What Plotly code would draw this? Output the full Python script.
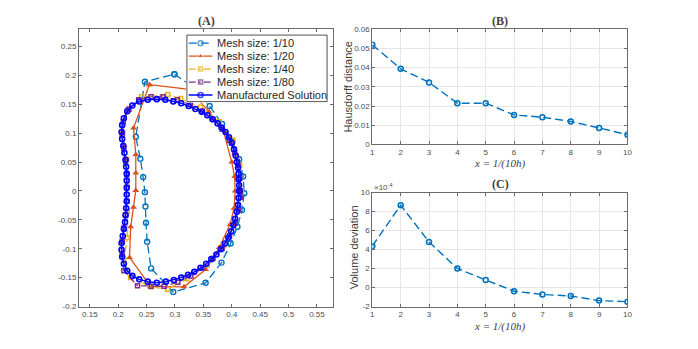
import plotly.graph_objects as go

# ---- panel A: interface shapes ----
mesh10_x = [0.299, 0.335, 0.361, 0.383, 0.401, 0.413, 0.420, 0.422, 0.418, 0.410, 0.398, 0.382,
            0.354, 0.297, 0.258, 0.251, 0.249, 0.248, 0.247, 0.244, 0.239, 0.231, 0.247, 0.299]
mesh10_y = [0.202, 0.178, 0.147, 0.116, 0.085, 0.055, 0.025, -0.004, -0.033, -0.062, -0.091, -0.124,
            -0.159, -0.175, -0.134, -0.088, -0.055, -0.027, -0.002, 0.024, 0.056, 0.094, 0.189, 0.202]

mesh20_x = [0.255, 0.325, 0.360, 0.385, 0.400, 0.405, 0.406, 0.404, 0.397, 0.378, 0.354, 0.316,
            0.257, 0.220, 0.222, 0.227, 0.231, 0.231, 0.231, 0.227, 0.255]
mesh20_y = [0.184, 0.176, 0.137, 0.105, 0.050, 0.025, 0.000, -0.030, -0.058, -0.098, -0.136, -0.166,
            -0.165, -0.115, -0.062, -0.028, 0.001, 0.031, 0.063, 0.109, 0.184]

mesh40_x = [0.416, 0.414, 0.402, 0.378, 0.345, 0.310, 0.287, 0.241, 0.217, 0.208, 0.215, 0.216,
            0.216, 0.216, 0.210, 0.222, 0.257, 0.287, 0.322, 0.357, 0.386, 0.405, 0.416]
mesh40_y = [0.000, 0.045, 0.088, 0.120, 0.145, 0.160, 0.167, 0.163, 0.140, 0.100, 0.055, 0.010,
            -0.035, -0.081, -0.120, -0.150, -0.166, -0.170, -0.152, -0.128, -0.095, -0.055, 0.000]

mesh80_x = [0.415, 0.414, 0.411, 0.405, 0.396, 0.383, 0.367, 0.348, 0.327, 0.304, 0.279, 0.258,
            0.236, 0.219, 0.209, 0.207, 0.210, 0.213, 0.215, 0.215, 0.215, 0.213, 0.210, 0.207,
            0.207, 0.210, 0.234, 0.258, 0.281, 0.305, 0.328, 0.349, 0.367, 0.383, 0.396, 0.406,
            0.412, 0.415, 0.415]
mesh80_y = [0.000, 0.022, 0.044, 0.066, 0.088, 0.107, 0.124, 0.138, 0.150, 0.158, 0.163, 0.163,
            0.158, 0.142, 0.120, 0.097, 0.074, 0.051, 0.028, 0.005, -0.018, -0.041, -0.064, -0.087,
            -0.110, -0.138, -0.164, -0.165, -0.165, -0.158, -0.147, -0.133, -0.117, -0.099, -0.078, -0.056,
            -0.033, -0.011, 0.000]

exact_x = [0.413, 0.413, 0.412, 0.412, 0.411, 0.409, 0.407, 0.404, 0.400, 0.395, 0.389, 0.382,
           0.375, 0.366, 0.357, 0.347, 0.336, 0.324, 0.311, 0.297, 0.283, 0.268, 0.252, 0.237,
           0.225, 0.216, 0.210, 0.207, 0.206, 0.207, 0.209, 0.211, 0.213, 0.214, 0.215, 0.215,
           0.215, 0.215, 0.215, 0.214, 0.213, 0.212, 0.210, 0.208, 0.206, 0.206, 0.207, 0.210,
           0.216, 0.225, 0.237, 0.252, 0.268, 0.284, 0.298, 0.311, 0.323, 0.334, 0.345, 0.355,
           0.364, 0.373, 0.381, 0.388, 0.394, 0.399, 0.403, 0.406, 0.409, 0.411, 0.412, 0.413]
exact_y = [0.000, 0.010, 0.020, 0.030, 0.040, 0.050, 0.061, 0.072, 0.083, 0.093, 0.102, 0.110,
           0.117, 0.124, 0.131, 0.137, 0.142, 0.147, 0.152, 0.155, 0.158, 0.159, 0.158, 0.155,
           0.148, 0.138, 0.126, 0.114, 0.102, 0.090, 0.078, 0.066, 0.054, 0.042, 0.030, 0.018,
           0.006, -0.006, -0.018, -0.030, -0.042, -0.054, -0.066, -0.078, -0.090, -0.102, -0.114, -0.126,
           -0.138, -0.147, -0.153, -0.157, -0.159, -0.157, -0.154, -0.150, -0.145, -0.140, -0.133, -0.126,
           -0.118, -0.110, -0.101, -0.091, -0.081, -0.070, -0.059, -0.048, -0.036, -0.024, -0.012, 0.000]

# ---- panels B and C ----
n_refine = [1, 2, 3, 4, 5, 6, 7, 8, 9, 10]
hausdorff = [0.0519, 0.0394, 0.0323, 0.0215, 0.0215, 0.0154, 0.0142, 0.0120, 0.0086, 0.0051]
vol_dev_e4 = [4.36, 8.67, 4.80, 2.00, 0.80, -0.39, -0.73, -0.90, -1.38, -1.49]  # units of 1e-4

a_xticks = [0.15, 0.2, 0.25, 0.3, 0.35, 0.4, 0.45, 0.5, 0.55]
a_xtext = ["0.15", "0.2", "0.25", "0.3", "0.35", "0.4", "0.45", "0.5", "0.55"]
a_yticks = [-0.2, -0.15, -0.1, -0.05, 0, 0.05, 0.1, 0.15, 0.2, 0.25]
a_ytext = ["-0.2", "-0.15", "-0.1", "-0.05", "0", "0.05", "0.1", "0.15", "0.2", "0.25"]
b_yticks = [0, 0.01, 0.02, 0.03, 0.04, 0.05, 0.06]
b_ytext = ["0", "0.01", "0.02", "0.03", "0.04", "0.05", "0.06"]
c_yticks = [-2, 0, 2, 4, 6, 8, 10]
c_ytext = ["-2", "0", "2", "4", "6", "8", "10"]

series_names = ["Mesh size: 1/10", "Mesh size: 1/20", "Mesh size: 1/40", "Mesh size: 1/80",
                "Manufactured Solution"]

W, H = 698, 349
OFF = 8  # page body margin
SANS = "Liberation Sans, Arial, sans-serif"
SERIF = "Liberation Serif, Times New Roman, serif"
AXC = "#6b6b6b"
DASH = "8px,4px"
DASHDOT = "7px,3px,2px,3px"


def px(x):
    return (x - OFF) / W


def py(y):
    return 1 - (y - OFF) / H


styles = [
    dict(line=dict(color="#0072BD", dash=DASH, width=1.3),
         marker=dict(symbol="circle-open", size=5, line=dict(width=1.4))),
    dict(line=dict(color="#D95319", width=1.3),
         marker=dict(symbol="triangle-up", size=6)),
    dict(line=dict(color="#EDB120", dash=DASHDOT, width=1.3),
         marker=dict(symbol="square-open", size=4, line=dict(width=1.5))),
    dict(line=dict(color="#7E2F8E", dash=DASHDOT, width=1.3),
         marker=dict(symbol="square-open", size=4, line=dict(width=1.5))),
    dict(line=dict(color="#0000FF", width=1.5),
         marker=dict(symbol="circle-open", size=5, line=dict(width=1.6))),
]
shapes_xy = [(mesh10_x, mesh10_y), (mesh20_x, mesh20_y), (mesh40_x, mesh40_y),
             (mesh80_x, mesh80_y), (exact_x, exact_y)]

fig = go.Figure()
for (sx, sy), st, nm in zip(shapes_xy, styles, series_names):
    fig.add_trace(go.Scatter(x=sx, y=sy, mode="lines+markers", name=nm, showlegend=False,
                             line=st["line"], marker=st["marker"], xaxis="x", yaxis="y"))

fig.add_trace(go.Scatter(x=n_refine, y=hausdorff, mode="lines+markers", showlegend=False,
                         line=dict(color="#0072BD", dash=DASH, width=1.4),
                         marker=dict(symbol="circle-open", size=5, line=dict(width=1.5)),
                         xaxis="x2", yaxis="y2"))
fig.add_trace(go.Scatter(x=n_refine, y=vol_dev_e4, mode="lines+markers", showlegend=False,
                         line=dict(color="#0072BD", dash=DASH, width=1.4),
                         marker=dict(symbol="circle-open", size=5, line=dict(width=1.5)),
                         xaxis="x3", yaxis="y3"))

# ---- compact legend box drawn in its own pixel-unit subplot ----
LX0, LX1, LY0, LY1 = 186.7, 328.3, 31.7, 100.0
fig.add_trace(go.Scatter(x=[LX0, LX1, LX1, LX0, LX0], y=[LY0, LY0, LY1, LY1, LY0],
                         mode="lines", fill="toself", fillcolor="white",
                         line=dict(color="#262626", width=0.8), hoverinfo="skip",
                         showlegend=False, xaxis="x4", yaxis="y4"))
for i, (st, nm) in enumerate(zip(styles, series_names)):
    ry = 40 + 13.3 * i
    mk = dict(st["marker"])
    mk["size"] = [0, mk["size"], 0]
    fig.add_trace(go.Scatter(x=[188.5, 200.5, 212.5], y=[ry, ry, ry], mode="lines+markers",
                             line=st["line"], marker=mk, hoverinfo="skip", showlegend=False,
                             xaxis="x4", yaxis="y4"))
    fig.add_annotation(text=nm, x=215, y=ry, xref="x4", yref="y4", showarrow=False,
                       xanchor="left", yanchor="middle",
                       font=dict(family=SANS, size=11, color="#262626"))


def ax(domain, rng, tickvals, ticktext, anchor, grid=False):
    return dict(domain=domain, range=rng, tickvals=tickvals, ticktext=ticktext, anchor=anchor,
                showline=True, mirror="allticks", linecolor=AXC, linewidth=1,
                ticks="inside", ticklen=3, tickcolor=AXC, zeroline=False,
                showgrid=grid, gridcolor="#e6e6e6", gridwidth=1,
                tickfont=dict(family=SANS, size=8, color="#4d4d4d"))


def hidden(domain, rng, anchor):
    return dict(domain=domain, range=rng, anchor=anchor, visible=False, showgrid=False,
                zeroline=False, fixedrange=True)


xa = [px(77.7), px(334.7)]
xb = [px(374), px(631.7)]
fig.update_layout(
    width=W, height=H, margin=dict(l=0, r=0, t=0, b=0),
    plot_bgcolor="white", paper_bgcolor="white", showlegend=False,
    xaxis=ax(xa, [0.131, 0.579], a_xticks, a_xtext, "y"),
    yaxis=ax([py(310.3), py(25.7)], [-0.2, 0.28], a_yticks, a_ytext, "x"),
    xaxis2=ax(xb, [1, 10], n_refine, [str(v) for v in n_refine], "y2", grid=True),
    yaxis2=ax([py(144), py(25.7)], [0, 0.06], b_yticks, b_ytext, "x2", grid=True),
    xaxis3=ax(xb, [1, 10], n_refine, [str(v) for v in n_refine], "y3", grid=True),
    yaxis3=ax([py(310.3), py(193.3)], [-2, 10], c_yticks, c_ytext, "x3", grid=True),
    xaxis4=hidden([px(LX0 - 1), px(LX1 + 1)], [LX0 - 1, LX1 + 1], "y4"),
    yaxis4=hidden([py(LY1 + 1), py(LY0 - 1)], [LY1 + 1, LY0 - 1], "x4"),
)

annos = [
    dict(text="<b>(A)</b>", x=206, y=17.7, size=12, family=SERIF, angle=0),
    dict(text="<b>(B)</b>", x=503, y=17.7, size=12, family=SERIF, angle=0),
    dict(text="<b>(C)</b>", x=503, y=184.3, size=12, family=SERIF, angle=0),
    dict(text="<i>x = 1/(10h)</i>", x=503, y=164, size=11, family=SERIF, angle=0),
    dict(text="<i>x = 1/(10h)</i>", x=503, y=331, size=11, family=SERIF, angle=0),
    dict(text="Hausdorff distance", x=349, y=85, size=11, family=SANS, angle=-90),
    dict(text="Volume deviation", x=355, y=250, size=11, family=SANS, angle=-90),
]
for a in annos:
    fig.add_annotation(text=a["text"], x=px(a["x"]), y=py(a["y"]), xref="paper", yref="paper",
                       showarrow=False, textangle=a["angle"], xanchor="center", yanchor="middle",
                       font=dict(family=a["family"], size=a["size"], color="#404040"))
fig.add_annotation(text="×10<sup>-4</sup>", x=px(374), y=py(188), xref="paper", yref="paper",
                   showarrow=False, xanchor="left", yanchor="middle",
                   font=dict(family=SANS, size=8, color="#4d4d4d"))

fig.write_html("out.html")
